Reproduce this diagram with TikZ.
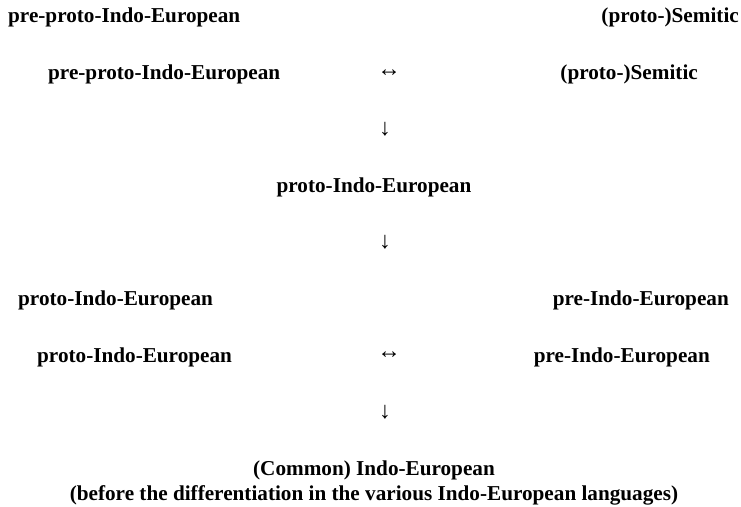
\documentclass[tikz,border=0pt]{standalone}
\usepackage{fontspec}
\setmainfont{Liberation Serif}
\usetikzlibrary{positioning}

\begin{document}
\begin{tikzpicture}[x=1pt,y=-1pt,
        lang/.style={font=\bfseries\fontsize{21.2}{24.4}\selectfont,inner sep=0pt},
        sym/.style={font=\fontsize{23.5}{26}\selectfont,inner sep=0pt}]

  \useasboundingbox (0,0) rectangle (741,506);

  \node[lang,anchor=base west] (ppie) at (8,22) {pre-proto-Indo-European};
  \node[lang,anchor=base east] (sem) at (739,22) {(proto-)Semitic};

  \node[lang,anchor=base west] (ppieA) at (48,79) {pre-proto-Indo-European};
  \node[sym] (lr1) at (389,73) {↔};
  \node[lang,anchor=base east] (semA) at (698,79) {(proto-)Semitic};

  \node[sym] (d1) at (385,129) {↓};
  \node[lang,anchor=base] (pie) at (374,192) {proto-Indo-European};
  \node[sym] (d2) at (385,242) {↓};

  \node[lang,anchor=base west] (pieB) at (18,305) {proto-Indo-European};
  \node[lang,anchor=base east] (pre) at (729,305) {pre-Indo-European};

  \node[lang,anchor=base west] (pieC) at (37,362) {proto-Indo-European};
  \node[sym] (lr2) at (389,355) {↔};
  \node[lang,anchor=base east] (preC) at (710,362) {pre-Indo-European};

  \node[sym] (d3) at (385,412) {↓};
  \node[lang,anchor=base] (cie) at (374,475) {(Common) Indo-European};
  \node[lang,anchor=base] (cieNote) at (374,500)
    {(before the differentiation in the various Indo-European languages)};

\end{tikzpicture}
\end{document}
